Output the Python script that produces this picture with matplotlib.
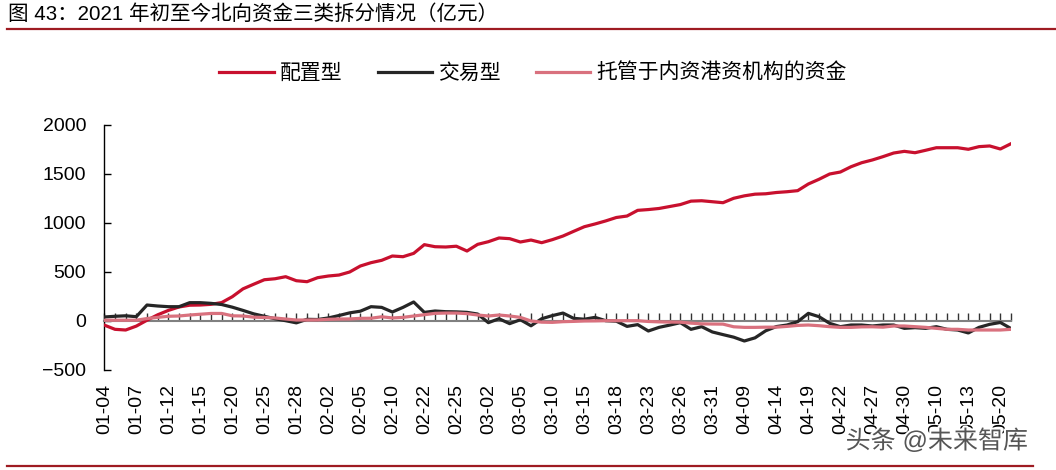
import matplotlib.pyplot as plt
import matplotlib.patheffects as pe
from matplotlib.lines import Line2D
import numpy as np

plt.rcParams['font.family'] = ['Liberation Sans', 'Noto Sans CJK SC']

# trading days, 2021-01-04 .. 2021-05-21
dates = ['01-04', '01-05', '01-06', '01-07', '01-08', '01-11', '01-12', '01-13', '01-14', '01-15',
         '01-18', '01-19', '01-20', '01-21', '01-22', '01-25', '01-26', '01-27', '01-28', '01-29',
         '02-01', '02-02', '02-03', '02-04', '02-05', '02-08', '02-09', '02-10', '02-18', '02-19',
         '02-22', '02-23', '02-24', '02-25', '02-26', '03-01', '03-02', '03-03', '03-04', '03-05',
         '03-08', '03-09', '03-10', '03-11', '03-12', '03-15', '03-16', '03-17', '03-18', '03-19',
         '03-22', '03-23', '03-24', '03-25', '03-26', '03-29', '03-30', '03-31', '04-01', '04-08',
         '04-09', '04-12', '04-13', '04-14', '04-15', '04-16', '04-19', '04-20', '04-21', '04-22',
         '04-23', '04-26', '04-27', '04-28', '04-29', '04-30', '05-06', '05-07', '05-10', '05-11',
         '05-12', '05-13', '05-17', '05-18', '05-20', '05-21']

# 配置型
alloc = [-45, -88, -95, -55, 5, 60, 105, 140, 158, 160,
         167, 185, 245, 325, 372, 418, 428, 449, 408, 398,
         439, 456, 466, 497, 558, 592, 616, 660, 653, 687,
         776, 755, 752, 760, 711, 779, 806, 844, 837, 803,
         823, 796, 827, 864, 912, 959, 987, 1018, 1053, 1068,
         1126, 1134, 1145, 1165, 1185, 1220, 1224, 1214, 1204, 1249,
         1274, 1291, 1295, 1308, 1316, 1327, 1395, 1443, 1497, 1517,
         1571, 1612, 1640, 1674, 1711, 1728, 1714, 1739, 1765, 1765,
         1765, 1749, 1776, 1783, 1752, 1806]

# 交易型
trade = [38, 45, 50, 41, 160, 150, 143, 143, 184, 184,
         177, 165, 138, 105, 70, 45, 20, 0, -22, 14,
         12, 28, 53, 80, 97, 143, 136, 89, 136, 191,
         85, 99, 92, 90, 85, 68, -20, 20, -30, 10,
         -52, 20, 52, 78, 24, 15, 34, 0, -5, -58,
         -40, -105, -68, -45, -20, -88, -61, -115, -142, -168,
         -207, -175, -103, -60, -44, -10, 75, 41, -27, -61,
         -44, -44, -54, -44, -44, -78, -71, -78, -61, -88,
         -95, -125, -68, -37, -18, -80]

# 托管于内资港资机构的资金
custody = [5, 5, 5, 5, 22, 34, 45, 48, 58, 66,
           74, 74, 50, 48, 36, 33, 28, 17, 7, 7,
           8, 14, 17, 18, 24, 25, 40, 28, 34, 48,
           61, 75, 78, 78, 72, 58, 48, 58, 48, 34,
           -3, -15, -17, -10, -7, -3, -2, 0, 0, 0,
           0, -8, -12, -14, -15, -25, -32, -34, -35, -62,
           -68, -68, -66, -66, -58, -48, -44, -51, -61, -68,
           -68, -63, -62, -66, -54, -54, -61, -68, -78, -88,
           -88, -95, -95, -95, -95, -88]

fig = plt.figure(figsize=(10.56, 4.70), dpi=100)
ax = fig.add_axes([0.0988, 0.2134, 0.8586, 0.5213])

x = np.arange(len(dates))
ax.plot(x, alloc, color='#C8102E', lw=2.3, label='配置型', zorder=3)
ax.plot(x, trade, color='#262626', lw=2.3, label='交易型', zorder=3)
ax.plot(x, custody, color='#D9717E', lw=2.3, label='托管于内资港资机构的资金', zorder=3)

ax.set_xlim(0, len(dates) - 1)
ax.set_ylim(-500, 2000)
ax.set_yticks([-500, 0, 500, 1000, 1500, 2000])
ax.tick_params(axis='y', direction='in', length=5, width=1, pad=13, labelsize=14)

ax.spines['top'].set_visible(False)
ax.spines['right'].set_visible(False)
ax.spines['left'].set_linewidth(1)
ax.spines['bottom'].set_position(('data', 0))
ax.spines['bottom'].set_color('#808080')
ax.spines['bottom'].set_linewidth(1.5)
ax.set_xticks(x)
ax.tick_params(axis='x', direction='in', length=6, width=1, color='#333333', labelbottom=False)

sec = ax.secondary_xaxis(0)
sec.set_xticks(x[::3], [dates[i] for i in x[::3]])
sec.tick_params(length=0, pad=10, labelsize=14, labelrotation=90)
sec.spines['bottom'].set_visible(False)

fig.legend(loc='center', bbox_to_anchor=(0.505, 0.845), ncol=3, frameon=False,
           fontsize=15, handlelength=2.6, handletextpad=0.3, columnspacing=1.7)

fig.text(8 / 1056, 1 - 14 / 470, '图 43：2021 年初至今北向资金三类拆分情况（亿元）',
         fontsize=14.8, ha='left', va='center')
fig.add_artist(Line2D([7 / 1056, 1], [1 - 29 / 470] * 2, transform=fig.transFigure,
                      color='#9E1B22', lw=1.6))
fig.add_artist(Line2D([7 / 1056, 1033 / 1056], [1 - 465.5 / 470] * 2, transform=fig.transFigure,
                      color='#9E1B22', lw=1.6))

fig.text(1028 / 1056, 1 - 441 / 470, '头条 @未来智库', fontsize=18, ha='right', va='center',
         color='#555555', path_effects=[pe.withStroke(linewidth=3, foreground='white')])

fig.savefig('out.png', dpi=100)
